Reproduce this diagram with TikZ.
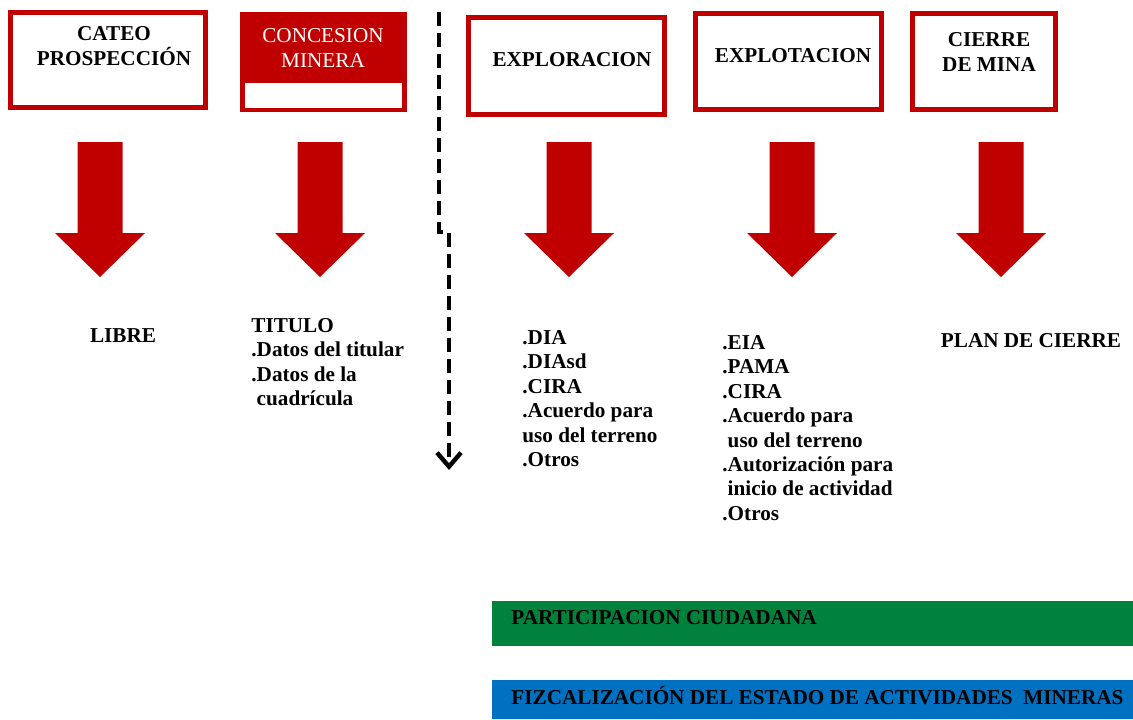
\documentclass[tikz,border=0pt]{standalone}
\usepackage{fontspec}
\setmainfont{Liberation Serif}
\usetikzlibrary{arrows.meta}
\definecolor{minered}{RGB}{192,0,0}
\definecolor{citizengreen}{RGB}{0,130,60}
\definecolor{statblue}{RGB}{0,112,192}
\tikzset{
    every node/.style={font=\fontsize{10.6}{12.2}\selectfont\bfseries, inner sep=0pt}, % Times-like bold everywhere
    stagebox/.style={rectangle, draw=minered, line width=2.5pt, fill=white}, % red framed stage
    boxlabel/.style={align=center},
    listtext/.style={align=left, anchor=north west},
    bartext/.style={anchor=base west},
    divider/.style={line width=2.2pt, dash pattern=on 7pt off 3.5pt, -{Straight Barb[length=7pt,width=12pt]}},
    pics/downarrow/.style={code={
        \fill[minered] (-22.5,0) -- (22.5,0) -- (22.5,91) -- (45,91) -- (0,135) -- (-45,91) -- (-22.5,91) -- cycle;
    }},
}

\begin{document}
\begin{tikzpicture}[x=0.5pt, y=-0.5pt]
        % Frame
        \useasboundingbox (0,0) rectangle (1133,719);

        % Nodes
        \node[stagebox, minimum width=97.5pt, minimum height=47.5pt] (cateo) at (108,60) {};
        \node[boxlabel] (cateolbl) at (114,46) {CATEO\\PROSPECCIÓN};
        \node[fill=minered, minimum width=83.5pt, minimum height=50pt] (concesion) at (323.5,62) {};
        \node[fill=white, minimum width=78.5pt, minimum height=12.5pt] (concesionslot) at (323.5,95.5) {};
        \node[boxlabel, text=white, font=\fontsize{10.6}{12.2}\selectfont\mdseries] (concesionlbl) at (323,48) {CONCESION\\MINERA};
        \node[stagebox, minimum width=98pt, minimum height=48.5pt] (explor) at (566.5,66) {};
        \node[boxlabel] (explorlbl) at (572,60) {EXPLORACION};
        \node[stagebox, minimum width=93pt, minimum height=48pt] (explot) at (788.5,61.5) {};
        \node[boxlabel] (explotlbl) at (793,56) {EXPLOTACION};
        \node[stagebox, minimum width=71.5pt, minimum height=48pt] (cierre) at (984,61.5) {};
        \node[boxlabel] (cierrelbl) at (989,52) {CIERRE\\DE MINA};

        % Arrows
        \foreach \ax [count=\i] in {100,320,569,792,1001}
            \pic (arrow\i) at (\ax,142) {downarrow};

        % Requirements
        \node (libre) at (123,336) {LIBRE};
        \node[listtext] (titulo) at (251,318) {TITULO\\.Datos del titular\\.Datos de la\\\ cuadrícula};
        \node[listtext] (dia) at (522,330) {.DIA\\.DIAsd\\.CIRA\\.Acuerdo para\\uso del terreno\\.Otros};
        \node[listtext] (eia) at (722,335) {.EIA\\.PAMA\\.CIRA\\.Acuerdo para\\\ uso del terreno\\.Autorización para\\\ inicio de actividad\\.Otros};
        \node (plan) at (1031,341) {PLAN DE CIERRE};

        % Divider
        \coordinate (divtop) at (439,12);
        \coordinate (divjog) at (449,232);
        \coordinate (divend) at (449,470);
        \draw[divider] (divtop) |- (divjog) -- (divend);

        % Bars
        \node[fill=citizengreen, minimum width=320.5pt, minimum height=22.5pt, anchor=north west] (partic) at (492,601) {};
        \node[bartext] (particlbl) at (511,624) {PARTICIPACION CIUDADANA};
        \node[fill=statblue, minimum width=320.5pt, minimum height=19.5pt, anchor=north west] (fizc) at (492,680) {};
        \node[bartext] (fizclbl) at (511,704) {FIZCALIZACIÓN DEL ESTADO DE ACTIVIDADES\ \ MINERAS};
    \end{tikzpicture}
\end{document}
